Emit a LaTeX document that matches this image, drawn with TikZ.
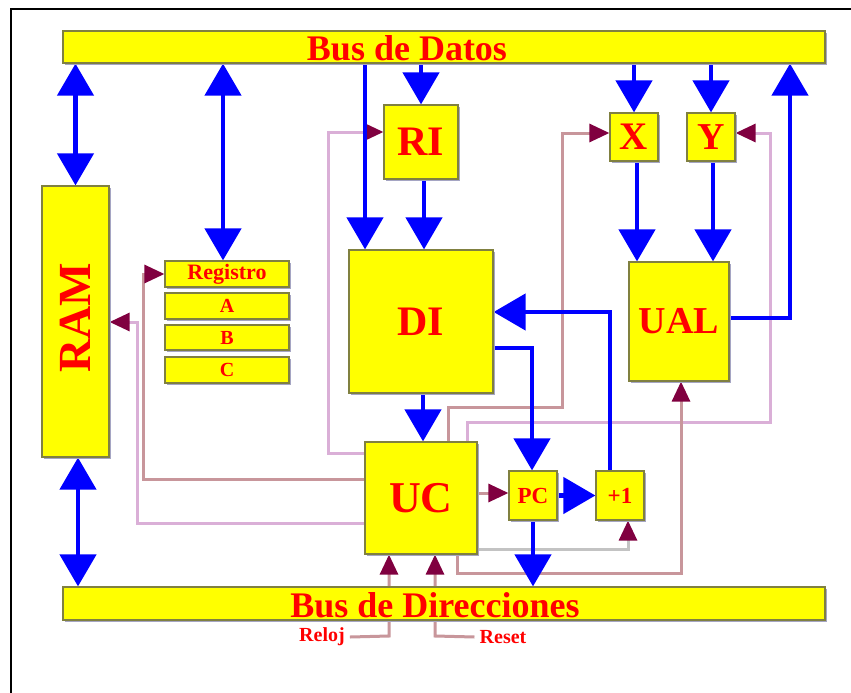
\documentclass[tikz,border=0pt]{standalone}
\usepackage{fontspec}
\setmainfont{Liberation Serif}
\usetikzlibrary{arrows.meta,shadows}
\definecolor{boxy}{RGB}{255,255,0}
\definecolor{boxedge}{RGB}{128,128,64}
\definecolor{shad}{RGB}{165,165,195}
\definecolor{bblue}{RGB}{0,0,255}
\definecolor{cmar}{RGB}{128,0,64}
\definecolor{crosy}{RGB}{200,150,155}
\definecolor{cplum}{RGB}{218,175,215}
\definecolor{cgray}{RGB}{195,195,195}
\definecolor{tred}{RGB}{255,0,0}
\newcommand\fsz[1]{\fontsize{#1}{#1}\selectfont}
\pgfdeclarelayer{paper}
\pgfdeclarelayer{bg}
\pgfsetlayers{paper,bg,main}
\begin{document}
\begin{tikzpicture}[x=1pt,y=-1pt,
  cell/.style={draw=boxedge, fill=boxy, line width=1.2pt, inner sep=0, text=tred,
    drop shadow={shadow xshift=1.8pt, shadow yshift=-1.8pt, fill=shad, opacity=1}},
  lbl/.style={text=tred, inner sep=0},
  bus/.style={draw=bblue, line width=4.5pt, -{Triangle[width=36pt,length=32pt]}},
  dbus/.style={draw=bblue, line width=4.5pt, {Triangle[width=36pt,length=32pt]}-{Triangle[width=36pt,length=32pt]}},
  ctl/.style={line width=3pt, -{Triangle[width=18pt,length=20pt,color=cmar]}},
]
\useasboundingbox (0,0) rectangle (851,693);
\begin{pgfonlayer}{paper}
\fill[white] (0,0) rectangle (851,693);
\end{pgfonlayer}
\draw[line width=2pt] (11,693) -- (11,9) -- (851,9);

% buses
\node[cell, minimum width=762pt, minimum height=32pt] (bd) at (444,47) {};
\node[lbl, font=\bfseries\fsz{36}] (bdt) at (407,48) {Bus de Datos};
\node[cell, minimum width=762pt, minimum height=33pt] (bdir) at (444,603.5) {};
\node[lbl, font=\bfseries\fsz{36}] (bdirt) at (435,605) {Bus de Direcciones};

% RAM
\node[cell, minimum width=67pt, minimum height=271pt] (ram) at (75.5,321.5) {};
\node[lbl, rotate=90, font=\bfseries\fsz{46}] (ramt) at (75,318) {RAM};

% registers
\node[cell, minimum width=124pt, minimum height=26pt, font=\bfseries\fsz{22}] (reg) at (227,274) {Registro};
\node[cell, minimum width=124pt, minimum height=26pt, font=\bfseries\fsz{20}] (ra) at (227,306) {A};
\node[cell, minimum width=124pt, minimum height=25pt, font=\bfseries\fsz{20}] (rb) at (227,337.5) {B};
\node[cell, minimum width=124pt, minimum height=26pt, font=\bfseries\fsz{20}] (rc) at (227,370) {C};

% main blocks
\node[cell, minimum width=74pt, minimum height=74pt, font=\bfseries\fsz{42}] (ri) at (421,142) {RI};
\node[cell, minimum width=144pt, minimum height=143pt, font=\bfseries\fsz{42}] (di) at (421,321.5) {DI};
\node[cell, minimum width=112pt, minimum height=112pt, font=\bfseries\fsz{44}] (uc) at (421,498) {UC};
\node[cell, minimum width=48pt, minimum height=49pt, font=\bfseries\fsz{23}] (pc) at (533,495.5) {PC};
\node[cell, minimum width=48pt, minimum height=49pt, font=\bfseries\fsz{23}] (inc) at (620,495.5) {+1};
\node[cell, minimum width=48pt, minimum height=48pt, font=\bfseries\fsz{39}] (nx) at (634,137) {X};
\node[cell, minimum width=48pt, minimum height=48pt, font=\bfseries\fsz{38}] (ny) at (711,137) {Y};
\node[cell, minimum width=100pt, minimum height=119pt, font=\bfseries\fsz{38}] (ual) at (679,321.5) {UAL};

% clock / reset labels
\node[lbl, font=\bfseries\fsz{20}] (reloj) at (322,637) {Reloj};
\node[lbl, font=\bfseries\fsz{20}] (reset) at (503,637) {Reset};

\begin{pgfonlayer}{bg}
% control lines
\draw[ctl, cplum] (uc.west |- 0,453) -- (328,453) -- (328,132) -- (ri.west |- 0,132);
\draw[ctl, crosy] (uc.west |- 0,479) -- (143,479) -- (143,274) -- (reg.west);
\draw[ctl, cplum] (uc.west |- 0,523) -- (137,523) -- (137,322) -- (ram.east |- 0,322);
\draw[ctl, crosy] (uc.north -| 448,0) -- (448,407) -- (562,407) -- (562,133) -- (nx.west |- 0,133);
\draw[ctl, cplum] (uc.north -| 467,0) -- (467,422) -- (770,422) -- (770,133) -- (ny.east |- 0,133);
\draw[ctl, crosy] (uc.south -| 457,0) -- (457,573) -- (681,573) -- (ual.south -| 681,0);
\draw[ctl, cgray] (uc.east |- 0,549) -- (628,549) -- (inc.south -| 628,0);
\draw[ctl, crosy] (uc.east |- 0,493) -- (pc.west |- 0,493);
\draw[ctl, crosy] ([xshift=5pt]reloj.east) -- (389,636) -- (uc.south -| 389,0);
\draw[ctl, crosy] ([xshift=-5pt]reset.west) -- (435,636) -- (uc.south -| 435,0);

% data paths
\draw[dbus] (bd.south -| ram.north) -- (ram.north);
\draw[dbus] (bd.south -| 223,0) -- (reg.north -| 223,0);
\draw[dbus] (ram.south -| 78,0) -- (bdir.north -| 78,0);
\draw[bus] (bd.south -| 365,0) -- (di.north -| 365,0);
\draw[bus] (bd.south -| ri.north) -- (ri.north);
\draw[bus] (ri.south -| 424,0) -- (di.north -| 424,0);
\draw[bus] (di.south -| 423,0) -- (uc.north -| 423,0);
\draw[bus] (bd.south -| nx.north) -- (nx.north);
\draw[bus] (bd.south -| ny.north) -- (ny.north);
\draw[bus] (nx.south -| 637,0) -- (ual.north -| 637,0);
\draw[bus] (ny.south -| 713,0) -- (ual.north -| 713,0);
\draw[bus] (ual.east |- 0,318) -- (790,318) -- (bd.south -| 790,0);
\draw[bus] (inc.north -| 610,0) -- (610,312) -- (di.east |- 0,312);
\draw[bus] (di.east |- 0,348) -- (532,348) -- (pc.north -| 532,0);
\draw[bus] (pc.east) -- (inc.west);
\draw[bus] (pc.south) -- (bdir.north -| pc.south);
\end{pgfonlayer}
\end{tikzpicture}
\end{document}
